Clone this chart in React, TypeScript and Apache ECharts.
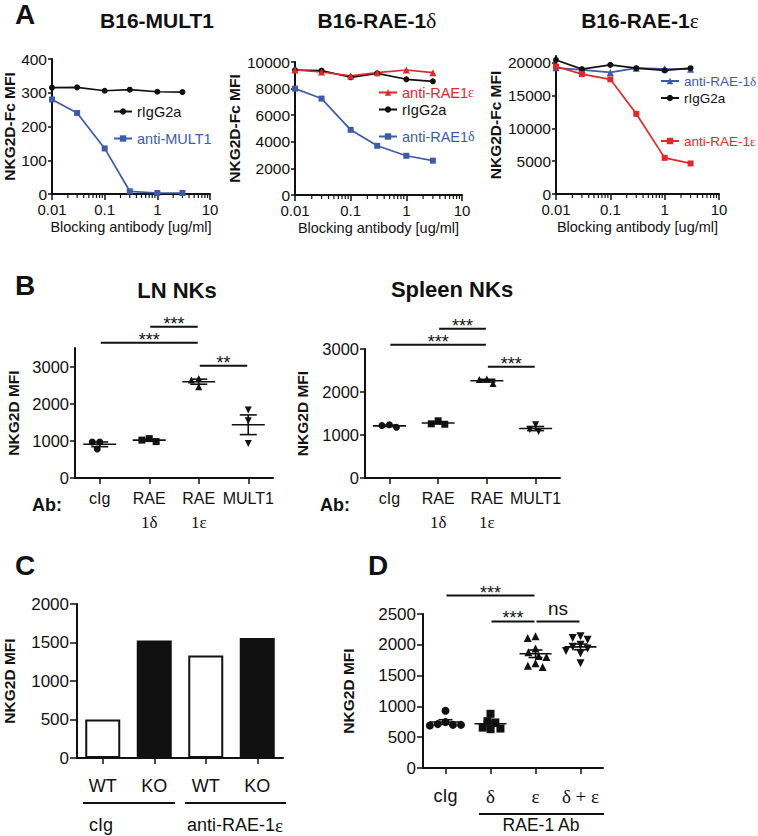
import React, { useEffect, useRef } from 'react';
import * as echarts from 'echarts';

const FONT = '"Liberation Sans", Arial, Helvetica, sans-serif';
const SERIF = '"Liberation Serif", "Times New Roman", serif';
const INK = '#111111';
const BLUE = '#3d5ba9';
const RED = '#e3262a';

// ---------- Panel A : blocking curves ----------
const concentrations = [0.01, 0.03, 0.1, 0.3, 1, 3];
const logMinorTicks = [0.02, 0.03, 0.04, 0.05, 0.06, 0.07, 0.08, 0.09, 0.2, 0.3, 0.4, 0.5, 0.6, 0.7, 0.8, 0.9, 2, 3, 4, 5, 6, 7, 8, 9];
const mult1Ctrl = [315, 316, 306, 309, 303, 302];
const mult1Block = [280, 240, 135, 8, 3, 3];
const rae1dAntiE = [9400, 9250, 8950, 9200, 9400, 9200];
const rae1dCtrl = [9400, 9350, 8850, 9150, 8700, 8550];
const rae1dBlock = [8000, 7250, 4900, 3700, 2950, 2580];
const rae1eAntiD = [19200, 18900, 18500, 19150, 19050, 19000];
const rae1eCtrl = [20400, 19000, 19650, 19150, 18800, 19150];
const rae1eBlock = [19400, 18250, 17450, 12200, 5500, 4650];
const aYTicksRight = [0, 5000, 10000, 15000, 20000];

// ---------- Panel B : LN / spleen NK ----------
const bCategories = ['cIg', 'RAE\n1δ', 'RAE\n1ε', 'MULT1'];
const lnNK = [[970, 970, 780], [1060, 980, 1020], [2680, 2460, 2640], [1830, 1540, 930]];
const spleenNK = [[1240, 1180, 1220], [1330, 1260, 1250], [2300, 2200, 2290], [1240, 1080, 1130]];
const bYTicksLeft = [0, 1000, 2000, 3000];
const lnSigFrom = [0, 1, 2];
const lnSigTo = [2, 2, 3];
const lnSigLevel = [3640, 4070, 3020];
const lnSigText = ['***', '***', '**'];
const spSigFrom = [0, 1, 2];
const spSigTo = [2, 2, 3];
const spSigLevel = [3100, 3470, 2590];
const spSigText = ['***', '***', '***'];

// ---------- Panel C : bars ----------
const cCategories = ['WT', 'KO', 'WT', 'KO'];
const cValues = [500, 1525, 1330, 1560];
const cGroups = ['cIg', 'anti-RAE-1ε'];

// ---------- Panel D ----------
const dCategories = ['cIg', 'δ', 'ε', 'δ + ε'];
const dValues = [
  [930, 745, 700, 690, 712, 700],
  [880, 760, 740, 640, 630, 655],
  [2140, 2110, 1940, 1880, 1820, 1800, 1700, 1660, 1640],
  [2140, 2080, 2110, 2000, 1970, 1940, 1900, 1860, 1700],
];
const dSigFrom = [0, 1, 2];
const dSigTo = [2, 2, 3];
const dSigLevel = [2800, 2380, 2380];
const dSigText = ['***', '***', 'ns'];
const dGroupLabel = 'RAE-1 Ab';

const groupSymbols = ['circle', 'rect', 'triangle', 'triangle'];
const groupRotate = [0, 0, 0, 180];

// layout (pixels)
const GRIDS = [
  { left: 52, top: 59, width: 158, height: 135 },
  { left: 295, top: 62, width: 167, height: 133 },
  { left: 556, top: 56, width: 163, height: 138 },
  { left: 75, top: 348, width: 198, height: 130 },
  { left: 365, top: 349, width: 195, height: 129 },
  { left: 76, top: 604, width: 207, height: 154 },
  { left: 423, top: 614, width: 180, height: 154 },
];
const Y_MAX = [400, 10000, 21000, 3500, 3000, 2000, 2500];

const mean = (a: number[]) => a.reduce((s, v) => s + v, 0) / a.length;
const sem = (a: number[]) => {
  const m = mean(a);
  const sd = Math.sqrt(a.reduce((s, v) => s + (v - m) * (v - m), 0) / (a.length - 1));
  return sd / Math.sqrt(a.length);
};

function swarm(values: number[], pxPerUnit: number, dist: number): number[] {
  const order = values.map((_, i) => i).sort((a, b) => values[b] - values[a]);
  const placed: { x: number; y: number }[] = [];
  const out = new Array(values.length).fill(0);
  for (const i of order) {
    const y = values[i] * pxPerUnit;
    const cands = [0];
    for (const p of placed) {
      const dy = Math.abs(p.y - y);
      if (dy < dist) {
        const dx = Math.sqrt(dist * dist - dy * dy);
        cands.push(p.x + dx, p.x - dx);
      }
    }
    cands.sort((a, b) => Math.abs(a) - Math.abs(b) || a - b);
    let chosen = 0;
    for (const c of cands) {
      if (placed.every((p) => Math.hypot(p.x - c, p.y - y) >= dist - 1e-6)) {
        chosen = c;
        break;
      }
    }
    placed.push({ x: chosen, y });
    out[i] = chosen;
  }
  return out;
}

const greek = (s: string) => s.replace(/[δε]/g, (m) => `{g|${m}}`);
const greekLines = (s: string) =>
  s
    .split('\n')
    .map((l) => (/[δε]/.test(l) ? `{g|${l}}` : l))
    .join('\n');

function buildOption() {
  const pairs = (ys: number[]) => concentrations.map((c, i) => [c, ys[i]]);

  const logX = (gi: number) => ({
    type: 'log',
    gridIndex: gi,
    min: 0.01,
    max: 10,
    logBase: 10,
    axisLine: { show: true, onZero: false, lineStyle: { color: INK, width: 2 } },
    axisTick: { show: true, length: 6, lineStyle: { color: INK, width: 1.5 } },
    axisLabel: {
      color: INK,
      fontFamily: FONT,
      fontSize: 15,
      margin: 8,
      formatter: (v: number) => String(parseFloat(Number(v).toPrecision(3))),
    },
    splitLine: { show: false },
    name: 'Blocking antibody [ug/ml]',
    nameLocation: 'middle',
    nameGap: 25,
    nameTextStyle: { color: INK, fontFamily: FONT, fontSize: 14.5 },
  });

  const catX = (gi: number, data: string[], fontSize: number, margin: number, lineHeight: number) => ({
    type: 'category',
    gridIndex: gi,
    data,
    boundaryGap: true,
    axisLine: { show: true, onZero: false, lineStyle: { color: INK, width: 2 } },
    axisTick: { show: true, alignWithLabel: true, length: 6, lineStyle: { color: INK, width: 1.5 } },
    axisLabel: {
      color: INK,
      fontFamily: FONT,
      fontSize,
      margin,
      lineHeight,
      interval: 0,
      formatter: (v: string) => greekLines(v),
      rich: { g: { fontFamily: SERIF, fontSize: fontSize + 1, lineHeight, color: INK } },
    },
    splitLine: { show: false },
  });

  const valY = (
    gi: number,
    interval: number,
    fontSize: number,
    name: string,
    nameGap: number,
    margin: number,
    tickLen: number,
    custom?: number[]
  ) => ({
    type: 'value',
    gridIndex: gi,
    min: 0,
    max: Y_MAX[gi],
    interval,
    axisLine: { show: true, onZero: false, lineStyle: { color: INK, width: 2 } },
    axisTick: { show: true, length: tickLen, lineStyle: { color: INK, width: 1.5 }, customValues: custom },
    axisLabel: {
      color: INK,
      fontFamily: FONT,
      fontSize,
      margin,
      customValues: custom,
      formatter: (v: number) => String(v),
    },
    splitLine: { show: false },
    name,
    nameLocation: 'middle',
    nameGap,
    nameTextStyle: { color: INK, fontFamily: FONT, fontSize: 15.5, fontWeight: 'bold' },
  });

  const xAxis = [
    logX(0),
    logX(1),
    logX(2),
    catX(3, bCategories, 16, 8, 24),
    catX(4, bCategories, 16, 8, 24),
    catX(5, cCategories, 18, 18, 20),
    catX(6, dCategories, 18, 18, 20),
  ];
  const yAxis = [
    valY(0, 100, 15.5, 'NKG2D-Fc MFI', 32, 5, 4),
    valY(1, 2000, 15.5, 'NKG2D-Fc MFI', 47, 5, 4),
    valY(2, 5000, 15.5, 'NKG2D-Fc MFI', 53, 5, 4, aYTicksRight),
    valY(3, 1000, 16.5, 'NKG2D MFI', 54, 6, 5, bYTicksLeft),
    valY(4, 1000, 16.5, 'NKG2D MFI', 55, 6, 5),
    valY(5, 500, 17, 'NKG2D MFI', 60, 8, 7),
    valY(6, 500, 17, 'NKG2D MFI', 67, 7, 6),
  ];

  const line = (gi: number, name: string, ys: number[], color: string, symbol: string, size: number) => ({
    type: 'line',
    name,
    xAxisIndex: gi,
    yAxisIndex: gi,
    data: pairs(ys),
    symbol,
    symbolSize: size,
    showSymbol: true,
    clip: false,
    lineStyle: { color, width: 1.7 },
    itemStyle: { color, opacity: 1 },
    z: 3,
  });

  const minorTicks = (gi: number) => ({
    type: 'custom',
    xAxisIndex: gi,
    yAxisIndex: gi,
    silent: true,
    data: logMinorTicks.map((v) => [v, 0]),
    renderItem: (_p: any, api: any) => {
      const p = api.coord([api.value(0), 0]);
      return {
        type: 'line',
        shape: { x1: p[0], y1: p[1] + 1, x2: p[0], y2: p[1] + 4 },
        style: { stroke: INK, lineWidth: 1.2 },
      };
    },
  });

  const scatterGroups = (gi: number, groups: number[][], size: number, dist: number) =>
    groups.map((vals, g) => {
      const ppu = GRIDS[gi].height / Y_MAX[gi];
      const offs = swarm(vals, ppu, dist);
      return {
        type: 'scatter',
        xAxisIndex: gi,
        yAxisIndex: gi,
        symbol: groupSymbols[g],
        symbolRotate: groupRotate[g],
        symbolSize: size,
        itemStyle: { color: INK, opacity: 1 },
        z: 4,
        data: vals.map((v, k) => ({ value: [g, v], symbolOffset: [offs[k], 0] })),
      };
    });

  const meanSem = (gi: number, groups: number[][], halfMean: number, halfCap: number) => ({
    type: 'custom',
    xAxisIndex: gi,
    yAxisIndex: gi,
    silent: true,
    z: 5,
    data: groups.map((vals, g) => [g, mean(vals), sem(vals)]),
    encode: { x: 0, y: 1 },
    renderItem: (_p: any, api: any) => {
      const g = api.value(0);
      const m = api.value(1);
      const s = api.value(2);
      const c = api.coord([g, m]);
      const t = api.coord([g, m + s]);
      const b = api.coord([g, m - s]);
      const st = { stroke: INK, lineWidth: 1.6 };
      return {
        type: 'group',
        children: [
          { type: 'line', shape: { x1: c[0] - halfMean, y1: c[1], x2: c[0] + halfMean, y2: c[1] }, style: st },
          { type: 'line', shape: { x1: c[0], y1: t[1], x2: c[0], y2: b[1] }, style: st },
          { type: 'line', shape: { x1: c[0] - halfCap, y1: t[1], x2: c[0] + halfCap, y2: t[1] }, style: st },
          { type: 'line', shape: { x1: c[0] - halfCap, y1: b[1], x2: c[0] + halfCap, y2: b[1] }, style: st },
        ],
      };
    },
  });

  const sigBars = (gi: number, from: number[], to: number[], level: number[], text: string[]) => ({
    type: 'custom',
    xAxisIndex: gi,
    yAxisIndex: gi,
    silent: true,
    z: 5,
    data: from.map((f, i) => [f, to[i], level[i]]),
    encode: { x: [0, 1], y: 2 },
    renderItem: (p: any, api: any) => {
      const a = api.coord([api.value(0), api.value(2)]);
      const b = api.coord([api.value(1), api.value(2)]);
      const label = text[p.dataIndex];
      const star = label.indexOf('*') >= 0;
      return {
        type: 'group',
        children: [
          {
            type: 'line',
            shape: { x1: a[0] + 1, y1: a[1], x2: b[0] - 1, y2: a[1] },
            style: { stroke: INK, lineWidth: 2 },
          },
          {
            type: 'text',
            x: (a[0] + b[0]) / 2,
            y: a[1] - (star ? 3 : 13),
            style: {
              text: label,
              fill: INK,
              fontFamily: FONT,
              fontSize: star ? 18 : 19,
              align: 'center',
              verticalAlign: 'middle',
              textAlign: 'center',
              textVerticalAlign: 'middle',
            },
          },
        ],
      };
    },
  });

  const bars = {
    type: 'bar',
    xAxisIndex: 5,
    yAxisIndex: 5,
    barWidth: 35,
    data: cValues.map((v, i) => ({
      value: v,
      itemStyle:
        cCategories[i] === 'WT'
          ? { color: '#ffffff', borderColor: INK, borderWidth: 2 }
          : { color: INK, borderColor: INK, borderWidth: 2 },
    })),
  };

  const series: any[] = [
    line(0, 'rIgG2a', mult1Ctrl, INK, 'circle', 6),
    line(0, 'anti-MULT1', mult1Block, BLUE, 'rect', 6),
    line(1, 'rIgG2a', rae1dCtrl, INK, 'circle', 6),
    line(1, 'anti-RAE1ε', rae1dAntiE, RED, 'triangle', 7),
    line(1, 'anti-RAE1δ', rae1dBlock, BLUE, 'rect', 6),
    line(2, 'anti-RAE-1δ', rae1eAntiD, BLUE, 'triangle', 7),
    line(2, 'rIgG2a', rae1eCtrl, INK, 'circle', 6),
    line(2, 'anti-RAE-1ε', rae1eBlock, RED, 'rect', 6),
    minorTicks(0),
    minorTicks(1),
    minorTicks(2),
    ...scatterGroups(3, lnNK, 7, 7.5),
    meanSem(3, lnNK, 16.5, 8.5),
    sigBars(3, lnSigFrom, lnSigTo, lnSigLevel, lnSigText),
    ...scatterGroups(4, spleenNK, 7, 7.5),
    meanSem(4, spleenNK, 16.5, 8.5),
    sigBars(4, spSigFrom, spSigTo, spSigLevel, spSigText),
    bars,
    ...scatterGroups(6, dValues, 8, 8),
    meanSem(6, dValues, 16, 7),
    sigBars(6, dSigFrom, dSigTo, dSigLevel, dSigText),
  ];

  const legendItem = (name: string, color: string, left: number, cy: number, fontSize = 14.5) => ({
    data: [{ name, textStyle: { color } }],
    left,
    top: cy - 9,
    padding: 0,
    itemWidth: 18,
    itemHeight: 8,
    itemGap: 0,
    selectedMode: false,
    formatter: (n: string) => greek(n),
    textStyle: {
      fontFamily: FONT,
      fontSize,
      color,
      rich: { g: { fontFamily: SERIF, fontSize: fontSize - 0.5, color } },
    },
  });

  const legend = [
    legendItem('rIgG2a', INK, 113, 113),
    legendItem('anti-MULT1', BLUE, 113, 140),
    legendItem('anti-RAE1ε', RED, 378, 94),
    legendItem('rIgG2a', INK, 378, 111),
    legendItem('anti-RAE1δ', BLUE, 378, 138),
    legendItem('anti-RAE-1δ', BLUE, 660, 83, 13.5),
    legendItem('rIgG2a', INK, 660, 100, 13.5),
    legendItem('anti-RAE-1ε', RED, 660, 143, 13.5),
  ];

  const txt = (
    text: string,
    x: number,
    y: number,
    size: number,
    weight: string = 'normal',
    align: string = 'center'
  ) => ({
    type: 'text',
    x,
    y,
    silent: true,
    style: {
      text: greek(text),
      fill: INK,
      fontFamily: FONT,
      fontSize: size,
      fontWeight: weight,
      align,
      verticalAlign: 'middle',
      textAlign: align,
      textVerticalAlign: 'middle',
      rich: { g: { fontFamily: SERIF, fontSize: size + 1, fontWeight: 'normal', fill: INK } },
    },
  });
  const hline = (x1: number, x2: number, y: number) => ({
    type: 'line',
    silent: true,
    shape: { x1, y1: y, x2, y2: y },
    style: { stroke: INK, lineWidth: 2 },
  });

  const graphic = [
    txt('A', 15, 14, 28, 'bold', 'left'),
    txt('B16-MULT1', 157, 20, 21, 'bold'),
    txt('B16-RAE-1δ', 377, 20, 21, 'bold'),
    txt('B16-RAE-1ε', 640, 20, 21, 'bold'),
    txt('B', 15, 285, 28, 'bold', 'left'),
    txt('LN NKs', 177, 290, 22, 'bold'),
    txt('Spleen NKs', 452, 289, 22, 'bold'),
    txt('Ab:', 32, 505, 18, 'bold', 'left'),
    txt('Ab:', 320, 505, 18, 'bold', 'left'),
    txt('C', 15, 565, 28, 'bold', 'left'),
    txt('D', 368, 565, 28, 'bold', 'left'),
    hline(83, 175, 803),
    hline(185, 286, 803),
    txt(cGroups[0], 101, 825, 18),
    txt(cGroups[1], 235, 825, 18),
    hline(479, 604, 814),
    txt(dGroupLabel, 541, 825, 17.5),
  ];

  return {
    animation: false,
    backgroundColor: '#ffffff',
    grid: GRIDS.map((g) => ({ ...g, containLabel: false })),
    xAxis,
    yAxis,
    legend,
    series,
    graphic,
  };
}

export default function App() {
  const ref = useRef<HTMLDivElement>(null);
  useEffect(() => {
    document.body.style.margin = '0';
    const chart = echarts.init(ref.current as HTMLDivElement, null, { renderer: 'svg' });
    chart.setOption(buildOption() as any);
    return () => chart.dispose();
  }, []);
  return <div ref={ref} style={{ width: 758, height: 836 }} />;
}
